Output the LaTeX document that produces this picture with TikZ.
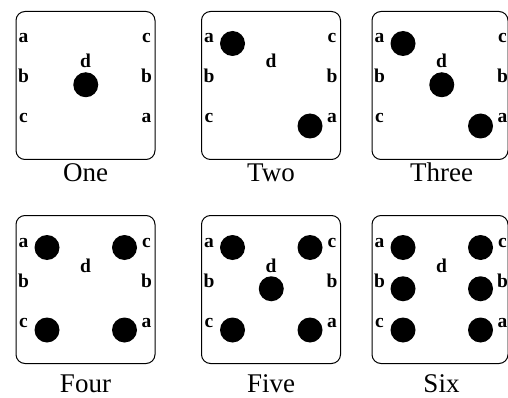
\documentclass[tikz,border=0pt]{standalone}
\usepackage{fontspec}
\setmainfont{Liberation Serif}
\tikzset{
  diebox/.style={draw, line width=1pt, rounded corners=9pt, minimum height=148pt, inner sep=0pt, anchor=north west},
  pipdot/.style={circle, fill=black, minimum size=25pt, inner sep=0pt},
  lbl/.style={font=\fontsize{19.5}{19.5}\selectfont\bfseries, inner sep=0pt, anchor=base},
  captext/.style={font=\fontsize{27}{27}\selectfont, inner sep=0pt, anchor=base}
}
% #1 name, #2 left, #3 top, #4 caption, #5 width, #6 caption baseline offset
\newcommand\mydie[6]{%
  \node[diebox, minimum width=#5pt] (#1) at (#2,#3) {};
  \node[lbl] (#1la) at (#2+8,#3+32) {a};
  \node[lbl] (#1lb) at (#2+8,#3+72) {b};
  \node[lbl] (#1lc) at (#2+8,#3+112) {c};
  \node[lbl] (#1rc) at (#2+131,#3+32) {c};
  \node[lbl] (#1rb) at (#2+131,#3+72) {b};
  \node[lbl] (#1ra) at (#2+131,#3+112) {a};
  \node[lbl] (#1d) at (#2+70,#3+57) {d};
  \node[captext] (#1cap) at (#2+70,#3+#6) {#4};
}
% #1 name, #2 left, #3 top, #4 col, #5 row
\newcommand\mypip[5]{%
  \node[pipdot] (#1) at (#2+31.5+#4*38.75,#3+32.5+#5*41.25) {};
}
\begin{document}
\begin{tikzpicture}[x=1pt,y=-1pt]
\useasboundingbox (0,0) rectangle (508,398);
\mydie{one}{15.5}{11}{One}{139}{171}
\mydie{two}{201}{11}{Two}{139}{171}
\mydie{three}{371.5}{11}{Three}{136}{171}
\mydie{four}{15.5}{215}{Four}{139}{177}
\mydie{five}{201}{215}{Five}{139}{177}
\mydie{six}{371.5}{215}{Six}{136}{177}
% One
\mypip{onep1}{15.5}{11}{1}{1}
% Two
\mypip{twop1}{201}{11}{0}{0}
\mypip{twop2}{201}{11}{2}{2}
% Three
\mypip{threep1}{371.5}{11}{0}{0}
\mypip{threep2}{371.5}{11}{1}{1}
\mypip{threep3}{371.5}{11}{2}{2}
% Four
\mypip{fourp1}{15.5}{215}{0}{0}
\mypip{fourp2}{15.5}{215}{2}{0}
\mypip{fourp3}{15.5}{215}{0}{2}
\mypip{fourp4}{15.5}{215}{2}{2}
% Five
\mypip{fivep1}{201}{215}{0}{0}
\mypip{fivep2}{201}{215}{2}{0}
\mypip{fivep3}{201}{215}{1}{1}
\mypip{fivep4}{201}{215}{0}{2}
\mypip{fivep5}{201}{215}{2}{2}
% Six
\mypip{sixp1}{371.5}{215}{0}{0}
\mypip{sixp2}{371.5}{215}{0}{1}
\mypip{sixp3}{371.5}{215}{0}{2}
\mypip{sixp4}{371.5}{215}{2}{0}
\mypip{sixp5}{371.5}{215}{2}{1}
\mypip{sixp6}{371.5}{215}{2}{2}
\end{tikzpicture}
\end{document}
